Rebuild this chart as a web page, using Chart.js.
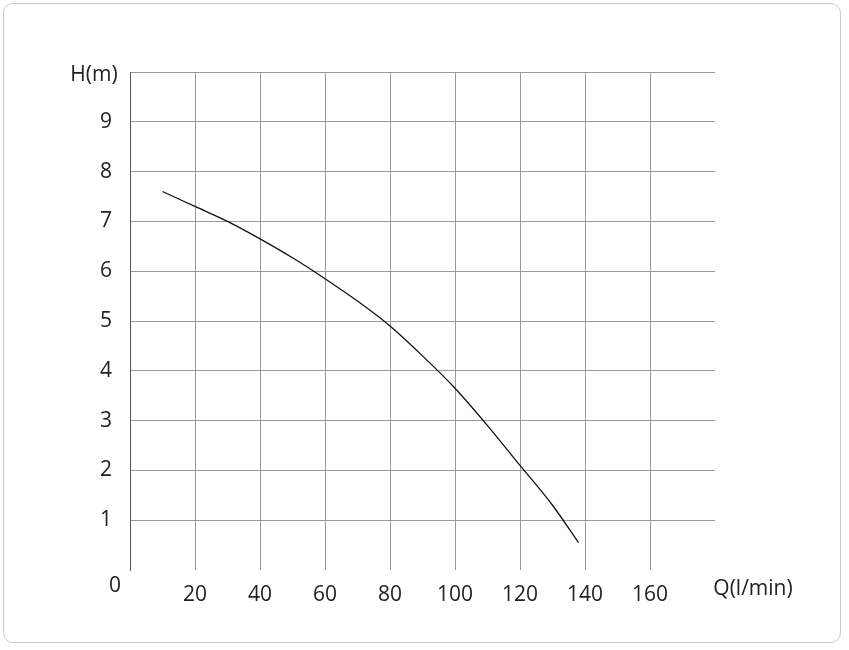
<!DOCTYPE html>
<html>
<head>
<meta charset="utf-8">
<script src="https://cdn.jsdelivr.net/npm/chart.js@4"></script>
<style>
  body { margin: 0; background: #fff; }
  #wrap { position: absolute; left: 0; top: 0; width: 849px; height: 650px; }
  #frame { position: absolute; left: 3px; top: 3px; width: 838px; height: 640px;
           border: 1px solid #ccc; border-radius: 10px; box-sizing: border-box; }
</style>
</head>
<body>
<div id="wrap">
  <div id="frame"></div>
  <canvas id="myChart" width="849" height="650"></canvas>
</div>
<script>
const flow = [10, 20, 30, 40, 50, 60, 70, 80, 90, 100, 110, 120, 130, 138];
const head = [7.6, 7.3, 7.0, 6.65, 6.27, 5.85, 5.4, 4.9, 4.3, 3.65, 2.9, 2.1, 1.3, 0.55];
const xTicks = [0, 20, 40, 60, 80, 100, 120, 140, 160, 180];
const yTicks = [0, 1, 2, 3, 4, 5, 6, 7, 8, 9, 10];

const font = { family: "'Open Sans', 'DejaVu Sans', sans-serif", size: 21 };

const cornerLabels = {
  id: 'cornerLabels',
  afterDraw(chart) {
    const c = chart.ctx;
    const a = chart.chartArea;
    c.save();
    c.fillStyle = '#222';
    c.font = "21px 'Open Sans', sans-serif";
    c.textAlign = 'center';
    c.textBaseline = 'middle';
    c.fillText('0', a.left - 15, a.bottom + 16);
    c.fillText('H(m)', a.left - 36, a.top + 3);
    c.fillText('Q(l/min)', a.right + 38, a.bottom + 19);
    c.restore();
  }
};

let ctx = document.getElementById('myChart').getContext('2d');
let myChart = new Chart(ctx, {
  type: 'scatter',
  data: {
    datasets: [{
      data: flow.map((q, i) => ({ x: q, y: head[i] })),
      showLine: true,
      borderColor: '#111',
      borderWidth: 1.3,
      pointRadius: 0,
      cubicInterpolationMode: 'monotone',
      fill: false
    }]
  },
  options: {
    responsive: false,
    animation: false,
    layout: { padding: { top: 72, right: 134, left: 0, bottom: 0 } },
    plugins: { legend: { display: false }, tooltip: { enabled: false } },
    scales: {
      x: {
        type: 'linear', min: 0, max: 180,
        afterBuildTicks: s => { s.ticks = xTicks.map(v => ({ value: v })); },
        afterFit: s => { s.height = 80; },
        grid: {
          color: c => (c.tick && c.tick.value === 180) ? 'rgba(0,0,0,0)' : '#999',
          lineWidth: 1, drawTicks: false
        },
        border: { display: false },
        ticks: {
          color: '#222', font, padding: 12, maxRotation: 0,
          callback: v => (v === 0 || v === 180) ? '' : v
        }
      },
      y: {
        type: 'linear', min: 0, max: 10,
        afterBuildTicks: s => { s.ticks = yTicks.map(v => ({ value: v })); },
        afterFit: s => { s.width = 130; },
        grid: {
          color: c => (c.tick && c.tick.value === 0) ? 'rgba(0,0,0,0)' : '#999',
          lineWidth: 1, drawTicks: false
        },
        border: { display: true, color: '#555', width: 1 },
        ticks: {
          color: '#222', font, padding: 18,
          callback: v => (v === 0 || v === 10) ? '' : v
        }
      }
    }
  },
  plugins: [cornerLabels]
});
</script>
</body>
</html>
